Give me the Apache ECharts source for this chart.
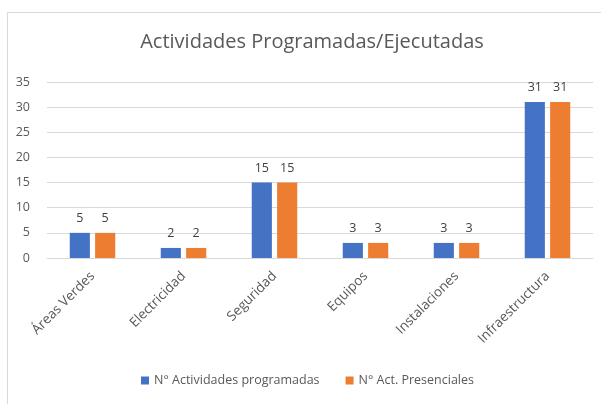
<!DOCTYPE html>
<html>
<head>
<meta charset="utf-8">
<script src="https://cdn.jsdelivr.net/npm/echarts@6/dist/echarts.min.js"></script>
<style>
  html, body { margin: 0; padding: 0; background: #fff; }
  #chart { width: 601px; height: 404px; }
</style>
</head>
<body>
<div id="chart"></div>
<script>
const categories = ['Áreas Verdes', 'Electricidad', 'Seguridad', 'Equipos', 'Instalaciones', 'Infraestructura']
const programadas = [5, 2, 15, 3, 3, 31]
const presenciales = [5, 2, 15, 3, 3, 31]
const seriesNames = ['N° Actividades programadas', 'N° Act. Presenciales']

const font = '"Open Sans", sans-serif'
const chart = echarts.init(document.getElementById('chart'))

const labelStyle = { show: true, position: 'top', distance: 8, color: '#404040', fontSize: 12.5, fontFamily: font }

chart.setOption({
  animation: false,
  textStyle: { fontFamily: font },
  graphic: [{
    type: 'rect',
    shape: { x: 7.5, y: 12.5, width: 620, height: 420 },
    style: { fill: 'none', stroke: '#d9d9d9', lineWidth: 1 },
    silent: true
  }],
  title: {
    text: 'Actividades Programadas/Ejecutadas',
    left: 307,
    textAlign: 'center',
    top: 27,
    textStyle: { color: '#595959', fontSize: 20, fontWeight: 'normal', fontFamily: font }
  },
  legend: {
    bottom: 12,
    left: 136,
    itemWidth: 8,
    itemHeight: 8,
    itemGap: 26,
    icon: 'rect',
    textStyle: { color: '#595959', fontSize: 12.5, fontFamily: font },
    data: seriesNames
  },
  grid: { left: 47, right: 8, top: 82, bottom: 146 },
  xAxis: {
    type: 'category',
    data: categories,
    axisLine: { lineStyle: { color: '#d9d9d9' } },
    axisTick: { show: false },
    axisLabel: { rotate: 45, color: '#595959', fontSize: 13.5, margin: 16, interval: 0, fontFamily: font }
  },
  yAxis: {
    type: 'value',
    min: 0,
    max: 35,
    interval: 5,
    axisLine: { show: false },
    axisTick: { show: false },
    axisLabel: { color: '#595959', fontSize: 12.5, margin: 17, fontFamily: font },
    splitLine: { lineStyle: { color: '#d9d9d9' } }
  },
  series: [
    {
      name: seriesNames[0],
      type: 'bar',
      data: programadas,
      barGap: '26%',
      barCategoryGap: '50%',
      itemStyle: { color: '#4472C4' },
      label: labelStyle
    },
    {
      name: seriesNames[1],
      type: 'bar',
      data: presenciales,
      itemStyle: { color: '#ED7D31' },
      label: labelStyle
    }
  ]
})
</script>
</body>
</html>
